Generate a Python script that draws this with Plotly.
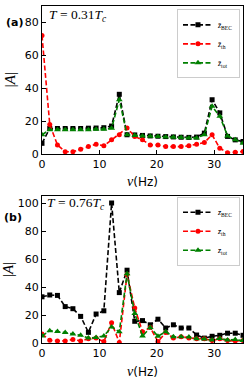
import plotly.graph_objects as go

# frequency bins (Hz)
freq = [0.0, 1.35, 2.69, 4.04, 5.38, 6.73, 8.08, 9.42, 10.77, 12.12, 13.46, 14.81, 16.15,
        17.5, 18.85, 20.19, 21.54, 22.88, 24.23, 25.58, 26.92, 28.27, 29.62, 30.96,
        32.31, 33.65, 35.0]

# panel (a): T = 0.31 Tc
bec_a = [6.5, 15.5, 15.5, 15.5, 15.5, 15.5, 15.7, 15.8, 16.0, 17.0, 36.3, 11.7, 11.6, 11.3,
         11.0, 10.8, 10.6, 10.4, 10.2, 10.1, 10.3, 12.7, 33.0, 25.0, 10.7, 8.6, 7.6]
th_a = [72.0, 18.0, 5.5, 1.4, 1.4, 2.9, 4.5, 6.0, 5.0, 8.6, 11.7, 15.8, 10.7, 8.6, 5.5, 5.5,
        4.5, 4.5, 4.5, 5.0, 6.0, 7.0, 11.7, 3.5, 0.8, 1.0, 1.5]
tot_a = [11.7, 14.8, 14.8, 14.8, 14.8, 14.8, 14.8, 15.0, 15.0, 15.6, 33.0, 11.7, 11.3, 11.0,
         10.8, 10.6, 10.4, 10.2, 10.0, 9.8, 9.8, 11.7, 29.0, 23.0, 11.0, 8.6, 6.6]

# panel (b): T = 0.76 Tc
bec_b = [33.0, 34.3, 34.0, 26.0, 24.5, 19.0, 7.6, 20.7, 23.0, 100.0, 36.0, 52.0, 15.5, 16.0,
         13.0, 17.0, 10.7, 13.0, 10.7, 10.7, 5.7, 3.5, 4.8, 5.5, 7.0, 7.0, 5.5]
th_b = [6.4, 2.0, 1.5, 1.5, 2.5, 1.5, 3.0, 3.5, 1.0, 14.5, 0.3, 49.0, 25.0, 8.0, 11.0, 1.0,
        7.5, 3.5, 4.5, 3.5, 3.0, 3.0, 1.7, 3.0, 1.7, 1.5, 1.7]
tot_b = [5.0, 8.8, 8.2, 7.5, 6.5, 5.5, 3.5, 4.0, 5.0, 11.5, 8.0, 49.5, 21.0, 5.0, 11.0, 4.8,
         8.0, 4.5, 4.5, 4.2, 3.0, 2.9, 2.2, 3.2, 2.2, 2.5, 1.7]

series_names = ["<i>z̄</i><sub>BEC</sub>", "<i>z̄</i><sub>th</sub>", "<i>z̄</i><sub>tot</sub>"]
colors = ["black", "red", "green"]
symbols = ["square", "circle", "triangle-up"]
sizes = [5, 5, 6]

fig = go.Figure()

panels = [
    ("x", "y", "legend", [bec_a, th_a, tot_a]),
    ("x2", "y2", "legend2", [bec_b, th_b, tot_b]),
]
for xa, ya, leg, data in panels:
    for name, vals, c, s, sz in zip(series_names, data, colors, symbols, sizes):
        fig.add_trace(go.Scatter(
            x=freq, y=vals, xaxis=xa, yaxis=ya, legend=leg, name=name,
            mode="lines+markers",
            line=dict(color=c, width=1.6, dash="5px,2.5px"),
            marker=dict(color=c, symbol=s, size=sz, line=dict(width=0)),
        ))

tickfont = dict(family="DejaVu Sans", size=11, color="black")
axis_common = dict(showline=True, mirror=True, linecolor="black", linewidth=1.3,
                   ticks="inside", ticklen=3.5, tickwidth=0.9, tickcolor="black",
                   showgrid=False, zeroline=False, tickfont=tickfont, automargin=False)

pa_bottom = 0.5608
pb_top = 0.4362

legend_common = dict(xanchor="right", yanchor="top",
                     font=dict(family="Liberation Serif", size=8, color="black"),
                     bordercolor="#cccccc", borderwidth=1, bgcolor="rgba(255,255,255,0.8)",
                     itemwidth=30, tracegroupgap=0)

xt = "<i>ν</i><span style='font-family:DejaVu Sans;font-size:12px'>(Hz)</span>"
yt = "|<i>A</i>|"
titlefont = dict(family="Liberation Serif", size=14, color="black")
yfont = dict(family="Liberation Serif", size=15, color="black")
tfont = dict(family="Liberation Serif", size=13.5, color="black")

fig.update_layout(
    width=249, height=378,
    margin=dict(l=42, r=6, t=6, b=35),
    paper_bgcolor="white", plot_bgcolor="white",
    showlegend=True,
    xaxis=dict(domain=[0, 1], anchor="y", range=[0, 35], tickvals=[0, 10, 20, 30],
               **axis_common),
    yaxis=dict(domain=[pa_bottom, 1], anchor="x", range=[0, 90], tickvals=[0, 20, 40, 60, 80],
               **axis_common),
    xaxis2=dict(domain=[0, 1], anchor="y2", range=[0, 35], tickvals=[0, 10, 20, 30],
                **axis_common),
    yaxis2=dict(domain=[0, pb_top], anchor="x2", range=[0, 105],
                tickvals=[0, 20, 40, 60, 80, 100], **axis_common),
    legend=dict(x=0.985, y=0.99, **legend_common),
    legend2=dict(x=0.985, y=0.434, **legend_common),
    annotations=[
        dict(text=xt, xref="paper", yref="paper", x=0.5, y=0.4807, xanchor="center",
             yanchor="middle", showarrow=False, font=titlefont),
        dict(text=xt, xref="paper", yref="paper", x=0.5, y=-0.0831, xanchor="center",
             yanchor="middle", showarrow=False, font=titlefont),
        dict(text=yt, xref="paper", yref="paper", x=-0.159, y=0.780, xanchor="center",
             yanchor="middle", showarrow=False, textangle=-90, font=yfont),
        dict(text=yt, xref="paper", yref="paper", x=-0.169, y=0.2166, xanchor="center",
             yanchor="middle", showarrow=False, textangle=-90, font=yfont),
        dict(text="<i>T</i> = 0.31<i>T</i><sub><i>c</i></sub>", xref="paper", yref="paper",
             x=0.025, y=0.972, xanchor="left", yanchor="middle", showarrow=False, font=tfont),
        dict(text="<i>T</i> = 0.76<i>T</i><sub><i>c</i></sub>", xref="paper", yref="paper",
             x=0.015, y=0.414, xanchor="left", yanchor="middle", showarrow=False, font=tfont),
        dict(text="<b>(a)</b>", xref="paper", yref="paper", x=-0.19, y=0.952,
             xanchor="left", yanchor="middle", showarrow=False,
             font=dict(family="DejaVu Sans", size=11, color="black")),
        dict(text="<b>(b)</b>", xref="paper", yref="paper", x=-0.2, y=0.372,
             xanchor="left", yanchor="middle", showarrow=False,
             font=dict(family="DejaVu Sans", size=11, color="black")),
    ],
)

fig.write_html("out.html", config={"displayModeBar": False},
               post_script="document.body.style.margin='0';document.body.style.overflow='hidden';")
